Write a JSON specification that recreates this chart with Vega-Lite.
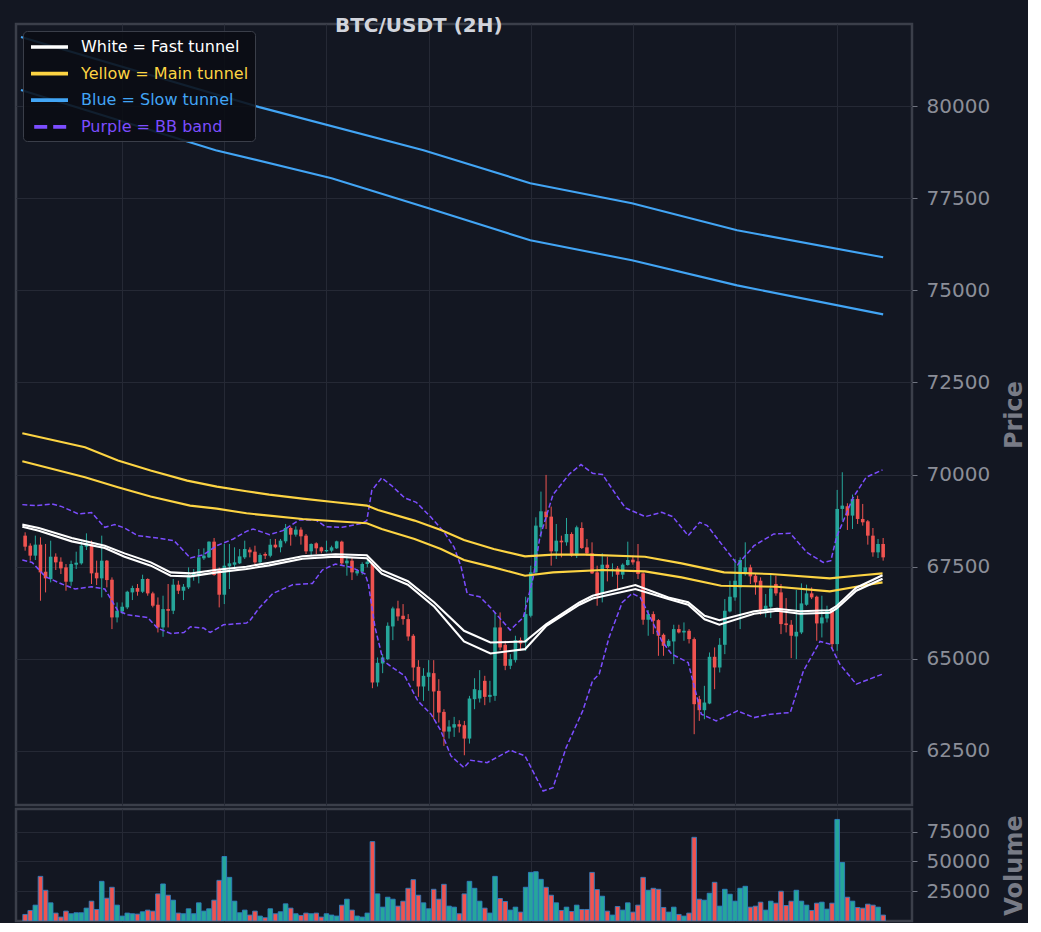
{
  "$schema": "https://vega.github.io/schema/vega-lite/v6.json",
  "background": "#131722",
  "padding": {"left": 14, "top": 15, "right": 0, "bottom": 0},
  "title": {
    "text": "BTC/USDT (2H)",
    "anchor": "start",
    "align": "center",
    "dx": 404,
    "dy": 29,
    "offset": 0,
    "baseline": "alphabetic",
    "font": "DejaVu Sans",
    "fontSize": 20,
    "fontWeight": "bold",
    "color": "#d1d4dc"
  },
  "datasets": {
    "candles": [
      {"i":1,"o":68342,"h":68433,"l":67934,"c":68043,"v":5520},
      {"i":2,"o":68070,"h":68134,"l":67663,"c":67799,"v":8850},
      {"i":3,"o":67799,"h":68342,"l":67681,"c":68098,"v":13300},
      {"i":4,"o":68098,"h":68297,"l":66576,"c":67346,"v":37470},
      {"i":5,"o":67364,"h":68116,"l":66802,"c":67183,"v":25800},
      {"i":6,"o":67165,"h":68206,"l":67074,"c":67771,"v":15240},
      {"i":7,"o":67771,"h":67862,"l":67409,"c":67617,"v":6630},
      {"i":8,"o":67635,"h":67753,"l":67300,"c":67454,"v":3300},
      {"i":9,"o":67481,"h":67572,"l":66847,"c":67092,"v":8300},
      {"i":10,"o":67092,"h":67663,"l":66983,"c":67572,"v":6080},
      {"i":11,"o":67554,"h":67907,"l":67436,"c":67608,"v":6910},
      {"i":12,"o":67590,"h":68188,"l":67554,"c":68070,"v":6910},
      {"i":13,"o":68043,"h":68405,"l":67952,"c":68134,"v":10800},
      {"i":14,"o":68116,"h":68206,"l":67029,"c":67318,"v":16630},
      {"i":15,"o":67337,"h":67663,"l":67001,"c":67183,"v":9690},
      {"i":16,"o":67183,"h":68342,"l":66666,"c":67663,"v":33300},
      {"i":17,"o":67663,"h":67681,"l":66938,"c":67137,"v":19130},
      {"i":18,"o":67146,"h":67210,"l":65806,"c":66123,"v":28300},
      {"i":19,"o":66123,"h":66530,"l":65987,"c":66304,"v":13300},
      {"i":20,"o":66286,"h":66530,"l":66213,"c":66413,"v":4130},
      {"i":21,"o":66395,"h":66847,"l":66349,"c":66820,"v":6630},
      {"i":22,"o":66802,"h":66983,"l":66594,"c":66920,"v":6080},
      {"i":23,"o":66920,"h":67029,"l":66712,"c":66820,"v":5800},
      {"i":24,"o":66820,"h":67282,"l":66784,"c":67165,"v":7740},
      {"i":25,"o":67165,"h":67183,"l":66712,"c":66775,"v":9130},
      {"i":26,"o":66775,"h":66820,"l":66395,"c":66440,"v":8300},
      {"i":27,"o":66467,"h":66666,"l":65715,"c":65851,"v":22740},
      {"i":28,"o":65851,"h":66712,"l":65597,"c":66349,"v":31080},
      {"i":29,"o":66349,"h":67029,"l":65851,"c":66304,"v":21630},
      {"i":30,"o":66304,"h":67165,"l":66213,"c":67011,"v":17470},
      {"i":31,"o":67011,"h":67119,"l":66757,"c":66847,"v":6630},
      {"i":32,"o":66847,"h":67029,"l":66594,"c":66956,"v":6080},
      {"i":33,"o":66938,"h":67481,"l":66893,"c":67273,"v":10240},
      {"i":34,"o":67255,"h":67436,"l":67119,"c":67318,"v":6080},
      {"i":35,"o":67282,"h":67980,"l":67047,"c":67753,"v":15240},
      {"i":36,"o":67726,"h":67998,"l":67681,"c":67799,"v":8300},
      {"i":37,"o":67753,"h":68188,"l":67735,"c":68179,"v":10240},
      {"i":38,"o":68179,"h":68279,"l":67255,"c":67273,"v":17470},
      {"i":39,"o":67436,"h":67481,"l":66395,"c":66739,"v":34130},
      {"i":40,"o":66739,"h":68116,"l":66485,"c":67527,"v":54130},
      {"i":41,"o":67509,"h":68116,"l":66893,"c":67590,"v":36640},
      {"i":42,"o":67554,"h":68025,"l":67436,"c":67617,"v":16630},
      {"i":43,"o":67590,"h":67980,"l":67572,"c":67780,"v":6910},
      {"i":44,"o":67753,"h":68206,"l":67708,"c":67980,"v":9130},
      {"i":45,"o":67962,"h":68025,"l":67753,"c":67889,"v":4960},
      {"i":46,"o":67907,"h":68070,"l":67527,"c":67617,"v":8300},
      {"i":47,"o":67617,"h":67862,"l":67554,"c":67817,"v":4130},
      {"i":48,"o":67844,"h":67889,"l":67708,"c":67799,"v":2740},
      {"i":49,"o":67799,"h":68252,"l":67753,"c":68098,"v":10240},
      {"i":50,"o":68098,"h":68252,"l":67998,"c":68025,"v":6080},
      {"i":51,"o":68025,"h":68252,"l":67889,"c":68206,"v":7740},
      {"i":52,"o":68188,"h":68659,"l":68134,"c":68550,"v":14410},
      {"i":53,"o":68550,"h":68587,"l":68070,"c":68369,"v":10800},
      {"i":54,"o":68369,"h":68596,"l":68315,"c":68505,"v":6080},
      {"i":55,"o":68505,"h":68568,"l":68098,"c":68324,"v":4690},
      {"i":56,"o":68342,"h":68387,"l":67844,"c":67916,"v":6630},
      {"i":57,"o":67916,"h":68134,"l":67799,"c":68116,"v":6080},
      {"i":58,"o":68134,"h":68161,"l":67844,"c":67998,"v":6630},
      {"i":59,"o":68025,"h":68043,"l":67862,"c":67916,"v":3300},
      {"i":60,"o":67916,"h":68206,"l":67889,"c":67952,"v":6080},
      {"i":61,"o":67934,"h":68070,"l":67889,"c":68025,"v":4960},
      {"i":62,"o":67998,"h":68206,"l":67980,"c":68188,"v":4130},
      {"i":63,"o":68179,"h":68206,"l":67527,"c":67590,"v":13300},
      {"i":64,"o":67590,"h":67799,"l":67255,"c":67663,"v":18300},
      {"i":65,"o":67663,"h":67753,"l":67137,"c":67346,"v":9130},
      {"i":66,"o":67318,"h":67436,"l":67255,"c":67391,"v":4130},
      {"i":67,"o":67364,"h":67617,"l":67282,"c":67572,"v":3300},
      {"i":68,"o":67572,"h":67681,"l":67481,"c":67635,"v":6630},
      {"i":69,"o":67572,"h":67617,"l":64202,"c":64357,"v":66640},
      {"i":70,"o":64357,"h":65036,"l":64248,"c":64891,"v":22740},
      {"i":71,"o":64873,"h":65127,"l":64610,"c":65036,"v":11630},
      {"i":72,"o":64991,"h":65987,"l":64963,"c":65896,"v":19970},
      {"i":73,"o":65878,"h":66413,"l":65507,"c":66367,"v":18300},
      {"i":74,"o":66367,"h":66576,"l":66032,"c":66150,"v":12460},
      {"i":75,"o":66168,"h":66485,"l":65924,"c":66077,"v":16630},
      {"i":76,"o":66077,"h":66213,"l":65489,"c":65606,"v":27460},
      {"i":77,"o":65625,"h":65670,"l":64402,"c":64764,"v":34690},
      {"i":78,"o":64782,"h":64963,"l":63967,"c":64248,"v":21630},
      {"i":79,"o":64248,"h":64746,"l":63858,"c":64538,"v":15240},
      {"i":80,"o":64510,"h":64963,"l":64130,"c":64628,"v":10240},
      {"i":81,"o":64610,"h":64963,"l":63360,"c":64112,"v":26630},
      {"i":82,"o":64130,"h":64447,"l":63270,"c":63541,"v":18300},
      {"i":83,"o":63559,"h":63632,"l":62636,"c":63025,"v":30800},
      {"i":84,"o":63025,"h":63333,"l":62835,"c":63161,"v":12460},
      {"i":85,"o":63134,"h":63424,"l":62880,"c":63225,"v":11630},
      {"i":86,"o":63225,"h":63333,"l":62998,"c":63161,"v":6080},
      {"i":87,"o":63197,"h":63315,"l":62382,"c":62835,"v":22740},
      {"i":88,"o":62835,"h":63994,"l":62699,"c":63922,"v":33300},
      {"i":89,"o":63904,"h":64474,"l":63632,"c":64175,"v":27460},
      {"i":90,"o":63922,"h":64692,"l":63813,"c":64148,"v":16630},
      {"i":91,"o":64402,"h":64538,"l":63741,"c":63967,"v":10800},
      {"i":92,"o":63967,"h":64402,"l":63813,"c":64021,"v":6630},
      {"i":93,"o":63994,"h":66259,"l":63858,"c":65851,"v":37470},
      {"i":94,"o":65851,"h":66259,"l":65235,"c":65308,"v":18860},
      {"i":95,"o":65380,"h":65489,"l":64692,"c":64810,"v":16360},
      {"i":96,"o":64810,"h":65127,"l":64719,"c":64991,"v":9130},
      {"i":97,"o":64963,"h":65625,"l":64900,"c":65507,"v":11630},
      {"i":98,"o":65507,"h":65579,"l":65217,"c":65416,"v":7460},
      {"i":99,"o":65443,"h":66684,"l":65217,"c":66213,"v":28300},
      {"i":100,"o":66168,"h":67527,"l":66123,"c":67346,"v":40800},
      {"i":101,"o":67346,"h":68840,"l":67300,"c":68614,"v":41350},
      {"i":102,"o":68569,"h":69538,"l":68297,"c":69003,"v":34970},
      {"i":103,"o":68994,"h":69990,"l":68523,"c":68840,"v":28300},
      {"i":104,"o":68858,"h":69130,"l":67527,"c":67916,"v":21630},
      {"i":105,"o":67916,"h":68659,"l":67708,"c":68206,"v":15240},
      {"i":106,"o":68206,"h":68342,"l":67753,"c":68161,"v":8850},
      {"i":107,"o":68161,"h":68822,"l":68070,"c":68387,"v":11630},
      {"i":108,"o":68387,"h":68433,"l":67771,"c":67799,"v":8020},
      {"i":109,"o":67799,"h":68614,"l":67735,"c":68569,"v":13300},
      {"i":110,"o":68550,"h":68704,"l":67980,"c":68007,"v":9690},
      {"i":111,"o":68025,"h":68252,"l":67799,"c":67862,"v":9690},
      {"i":112,"o":67862,"h":68161,"l":67300,"c":67318,"v":40800},
      {"i":113,"o":67346,"h":67527,"l":66440,"c":66712,"v":26360},
      {"i":114,"o":66757,"h":67862,"l":66530,"c":67554,"v":20800},
      {"i":115,"o":67554,"h":67771,"l":67101,"c":67463,"v":8300},
      {"i":116,"o":67391,"h":67590,"l":67228,"c":67436,"v":4960},
      {"i":117,"o":67454,"h":67518,"l":66893,"c":67282,"v":12190},
      {"i":118,"o":67282,"h":67590,"l":67165,"c":67554,"v":9130},
      {"i":119,"o":67545,"h":68179,"l":67527,"c":67681,"v":15240},
      {"i":120,"o":67690,"h":67799,"l":67554,"c":67617,"v":7460},
      {"i":121,"o":67645,"h":68116,"l":67165,"c":67300,"v":13300},
      {"i":122,"o":67318,"h":67346,"l":65924,"c":66060,"v":36640},
      {"i":123,"o":66060,"h":66322,"l":65625,"c":66213,"v":25800},
      {"i":124,"o":66213,"h":66286,"l":65670,"c":66032,"v":27460},
      {"i":125,"o":66050,"h":66077,"l":65081,"c":65625,"v":26630},
      {"i":126,"o":65652,"h":65688,"l":65081,"c":65353,"v":11360},
      {"i":127,"o":65344,"h":65534,"l":65308,"c":65489,"v":7460},
      {"i":128,"o":65471,"h":65924,"l":64855,"c":65806,"v":11630},
      {"i":129,"o":65806,"h":65924,"l":65688,"c":65715,"v":5520},
      {"i":130,"o":65715,"h":65987,"l":65489,"c":65760,"v":4130},
      {"i":131,"o":65760,"h":65806,"l":65416,"c":65534,"v":6630},
      {"i":132,"o":65534,"h":65579,"l":62953,"c":63768,"v":70250},
      {"i":133,"o":63904,"h":63994,"l":63315,"c":63605,"v":18300},
      {"i":134,"o":63605,"h":64266,"l":63360,"c":63813,"v":17470},
      {"i":135,"o":63786,"h":65172,"l":63768,"c":65054,"v":23300},
      {"i":136,"o":65054,"h":65308,"l":64175,"c":64764,"v":32470},
      {"i":137,"o":64764,"h":65561,"l":64628,"c":65380,"v":12460},
      {"i":138,"o":65380,"h":66621,"l":65126,"c":66304,"v":26630},
      {"i":139,"o":66286,"h":67119,"l":66259,"c":66684,"v":22470},
      {"i":140,"o":66666,"h":67708,"l":66576,"c":67119,"v":16630},
      {"i":141,"o":66938,"h":67753,"l":65806,"c":67681,"v":27460},
      {"i":142,"o":67300,"h":68161,"l":67255,"c":67481,"v":29130},
      {"i":143,"o":67481,"h":67554,"l":67029,"c":67237,"v":11630},
      {"i":144,"o":67255,"h":67318,"l":66739,"c":67074,"v":12460},
      {"i":145,"o":67119,"h":67210,"l":66195,"c":66304,"v":15800},
      {"i":146,"o":66304,"h":66757,"l":66123,"c":66440,"v":9130},
      {"i":147,"o":66413,"h":67282,"l":66105,"c":66911,"v":16630},
      {"i":148,"o":67029,"h":67255,"l":66712,"c":66775,"v":14970},
      {"i":149,"o":66802,"h":67029,"l":65670,"c":65942,"v":24970},
      {"i":150,"o":65960,"h":66648,"l":65715,"c":65915,"v":13020},
      {"i":151,"o":65924,"h":66050,"l":65018,"c":65625,"v":16630},
      {"i":152,"o":65607,"h":66866,"l":64991,"c":65733,"v":25800},
      {"i":153,"o":65715,"h":67047,"l":65670,"c":66503,"v":16630},
      {"i":154,"o":66467,"h":67011,"l":66440,"c":66775,"v":13300},
      {"i":155,"o":66775,"h":66938,"l":66621,"c":66666,"v":8850},
      {"i":156,"o":66684,"h":66712,"l":65489,"c":65960,"v":14970},
      {"i":157,"o":65960,"h":66712,"l":65579,"c":66123,"v":15800},
      {"i":158,"o":66096,"h":66440,"l":65987,"c":66322,"v":9970},
      {"i":159,"o":66322,"h":66349,"l":65262,"c":65398,"v":14970},
      {"i":160,"o":65398,"h":69583,"l":65217,"c":69067,"v":85250},
      {"i":161,"o":69067,"h":70063,"l":68750,"c":69157,"v":49140},
      {"i":162,"o":69139,"h":69221,"l":68496,"c":68886,"v":19970},
      {"i":163,"o":68886,"h":69456,"l":68523,"c":69338,"v":16630},
      {"i":164,"o":69338,"h":69429,"l":68659,"c":68795,"v":11360},
      {"i":165,"o":68795,"h":69203,"l":68614,"c":68704,"v":10800},
      {"i":166,"o":68731,"h":68768,"l":68098,"c":68342,"v":14130},
      {"i":167,"o":68342,"h":68550,"l":67771,"c":67889,"v":13300},
      {"i":168,"o":67889,"h":68252,"l":67735,"c":68116,"v":11630},
      {"i":169,"o":68116,"h":68279,"l":67663,"c":67753,"v":4960}
    ],
    "bb": [
      {"s":"Purple = BB band","k":"u","i":0.45,"p":69184},
      {"s":"Purple = BB band","k":"u","i":3.04,"p":69157},
      {"s":"Purple = BB band","k":"u","i":6.25,"p":69203},
      {"s":"Purple = BB band","k":"u","i":8.19,"p":69130},
      {"s":"Purple = BB band","k":"u","i":11.42,"p":68931},
      {"s":"Purple = BB band","k":"u","i":14.0,"p":68967},
      {"s":"Purple = BB band","k":"u","i":16.59,"p":68568},
      {"s":"Purple = BB band","k":"u","i":18.53,"p":68641},
      {"s":"Purple = BB band","k":"u","i":20.46,"p":68551},
      {"s":"Purple = BB band","k":"u","i":23.04,"p":68342},
      {"s":"Purple = BB band","k":"u","i":26.91,"p":68280},
      {"s":"Purple = BB band","k":"u","i":30.15,"p":68206},
      {"s":"Purple = BB band","k":"u","i":33.36,"p":67736},
      {"s":"Purple = BB band","k":"u","i":35.95,"p":67826},
      {"s":"Purple = BB band","k":"u","i":38.53,"p":68070},
      {"s":"Purple = BB band","k":"u","i":41.76,"p":68252},
      {"s":"Purple = BB band","k":"u","i":44.34,"p":68459},
      {"s":"Purple = BB band","k":"u","i":45.63,"p":68524},
      {"s":"Purple = BB band","k":"u","i":48.85,"p":68369},
      {"s":"Purple = BB band","k":"u","i":51.44,"p":68478},
      {"s":"Purple = BB band","k":"u","i":54.66,"p":68769},
      {"s":"Purple = BB band","k":"u","i":57.89,"p":68769},
      {"s":"Purple = BB band","k":"u","i":59.83,"p":68587},
      {"s":"Purple = BB band","k":"u","i":63.06,"p":68568},
      {"s":"Purple = BB band","k":"u","i":66.93,"p":68676},
      {"s":"Purple = BB band","k":"u","i":67.9,"p":68750},
      {"s":"Purple = BB band","k":"u","i":68.87,"p":69565},
      {"s":"Purple = BB band","k":"u","i":70.81,"p":69910},
      {"s":"Purple = BB band","k":"u","i":72.74,"p":69701},
      {"s":"Purple = BB band","k":"u","i":75.31,"p":69367},
      {"s":"Purple = BB band","k":"u","i":77.58,"p":69247},
      {"s":"Purple = BB band","k":"u","i":80.48,"p":68839},
      {"s":"Purple = BB band","k":"u","i":83.06,"p":68432},
      {"s":"Purple = BB band","k":"u","i":85.0,"p":68024},
      {"s":"Purple = BB band","k":"u","i":86.35,"p":67500},
      {"s":"Purple = BB band","k":"u","i":87.57,"p":66758},
      {"s":"Purple = BB band","k":"u","i":90.03,"p":66684},
      {"s":"Purple = BB band","k":"u","i":92.1,"p":66394},
      {"s":"Purple = BB band","k":"u","i":95.97,"p":65780},
      {"s":"Purple = BB band","k":"u","i":98.55,"p":66122},
      {"s":"Purple = BB band","k":"u","i":100.48,"p":67209},
      {"s":"Purple = BB band","k":"u","i":101.78,"p":68296},
      {"s":"Purple = BB band","k":"u","i":104.36,"p":69456},
      {"s":"Purple = BB band","k":"u","i":107.59,"p":70018},
      {"s":"Purple = BB band","k":"u","i":109.84,"p":70271},
      {"s":"Purple = BB band","k":"u","i":112.1,"p":70035},
      {"s":"Purple = BB band","k":"u","i":114.04,"p":70000},
      {"s":"Purple = BB band","k":"u","i":117.27,"p":69339},
      {"s":"Purple = BB band","k":"u","i":118.55,"p":69095},
      {"s":"Purple = BB band","k":"u","i":122.42,"p":68858},
      {"s":"Purple = BB band","k":"u","i":125.65,"p":68975},
      {"s":"Purple = BB band","k":"u","i":127.78,"p":68858},
      {"s":"Purple = BB band","k":"u","i":130.82,"p":68342},
      {"s":"Purple = BB band","k":"u","i":133.07,"p":68703},
      {"s":"Purple = BB band","k":"u","i":134.56,"p":68614},
      {"s":"Purple = BB band","k":"u","i":140.5,"p":67554},
      {"s":"Purple = BB band","k":"u","i":143.72,"p":68070},
      {"s":"Purple = BB band","k":"u","i":147.59,"p":68388},
      {"s":"Purple = BB band","k":"u","i":150.82,"p":68404},
      {"s":"Purple = BB band","k":"u","i":154.06,"p":67888},
      {"s":"Purple = BB band","k":"u","i":157.27,"p":67616},
      {"s":"Purple = BB band","k":"u","i":158.76,"p":67662},
      {"s":"Purple = BB band","k":"u","i":159.86,"p":68296},
      {"s":"Purple = BB band","k":"u","i":163.08,"p":69366},
      {"s":"Purple = BB band","k":"u","i":165.67,"p":69926},
      {"s":"Purple = BB band","k":"u","i":168.88,"p":70127},
      {"s":"Purple = BB band","k":"l","i":0.45,"p":67681},
      {"s":"Purple = BB band","k":"l","i":2.38,"p":67616},
      {"s":"Purple = BB band","k":"l","i":4.98,"p":67228},
      {"s":"Purple = BB band","k":"l","i":8.19,"p":67029},
      {"s":"Purple = BB band","k":"l","i":10.78,"p":66893},
      {"s":"Purple = BB band","k":"l","i":14.0,"p":66956},
      {"s":"Purple = BB band","k":"l","i":16.59,"p":66893},
      {"s":"Purple = BB band","k":"l","i":19.17,"p":66304},
      {"s":"Purple = BB band","k":"l","i":21.1,"p":66195},
      {"s":"Purple = BB band","k":"l","i":24.98,"p":66122},
      {"s":"Purple = BB band","k":"l","i":26.91,"p":65834},
      {"s":"Purple = BB band","k":"l","i":29.49,"p":65687},
      {"s":"Purple = BB band","k":"l","i":32.08,"p":65714},
      {"s":"Purple = BB band","k":"l","i":33.36,"p":65869},
      {"s":"Purple = BB band","k":"l","i":35.95,"p":65834},
      {"s":"Purple = BB band","k":"l","i":37.23,"p":65714},
      {"s":"Purple = BB band","k":"l","i":39.83,"p":65923},
      {"s":"Purple = BB band","k":"l","i":44.34,"p":65970},
      {"s":"Purple = BB band","k":"l","i":44.98,"p":66032},
      {"s":"Purple = BB band","k":"l","i":46.91,"p":66393},
      {"s":"Purple = BB band","k":"l","i":49.51,"p":66774},
      {"s":"Purple = BB band","k":"l","i":53.38,"p":67010},
      {"s":"Purple = BB band","k":"l","i":57.25,"p":67046},
      {"s":"Purple = BB band","k":"l","i":59.19,"p":67410},
      {"s":"Purple = BB band","k":"l","i":61.76,"p":67573},
      {"s":"Purple = BB band","k":"l","i":64.99,"p":67480},
      {"s":"Purple = BB band","k":"l","i":67.57,"p":67301},
      {"s":"Purple = BB band","k":"l","i":68.21,"p":67029},
      {"s":"Purple = BB band","k":"l","i":69.51,"p":65850},
      {"s":"Purple = BB band","k":"l","i":71.11,"p":64945},
      {"s":"Purple = BB band","k":"l","i":72.74,"p":64782},
      {"s":"Purple = BB band","k":"l","i":75.31,"p":64538},
      {"s":"Purple = BB band","k":"l","i":77.89,"p":63858},
      {"s":"Purple = BB band","k":"l","i":80.48,"p":63497},
      {"s":"Purple = BB band","k":"l","i":82.42,"p":63043},
      {"s":"Purple = BB band","k":"l","i":84.36,"p":62364},
      {"s":"Purple = BB band","k":"l","i":86.93,"p":62046},
      {"s":"Purple = BB band","k":"l","i":88.23,"p":62247},
      {"s":"Purple = BB band","k":"l","i":91.44,"p":62182},
      {"s":"Purple = BB band","k":"l","i":95.97,"p":62519},
      {"s":"Purple = BB band","k":"l","i":98.88,"p":62364},
      {"s":"Purple = BB band","k":"l","i":102.42,"p":61413},
      {"s":"Purple = BB band","k":"l","i":104.36,"p":61503},
      {"s":"Purple = BB band","k":"l","i":106.93,"p":62590},
      {"s":"Purple = BB band","k":"l","i":110.17,"p":63587},
      {"s":"Purple = BB band","k":"l","i":112.1,"p":64402},
      {"s":"Purple = BB band","k":"l","i":113.4,"p":64584},
      {"s":"Purple = BB band","k":"l","i":115.33,"p":65578},
      {"s":"Purple = BB band","k":"l","i":117.91,"p":66529},
      {"s":"Purple = BB band","k":"l","i":119.85,"p":66774},
      {"s":"Purple = BB band","k":"l","i":121.45,"p":66665},
      {"s":"Purple = BB band","k":"l","i":123.72,"p":66032},
      {"s":"Purple = BB band","k":"l","i":125.65,"p":65489},
      {"s":"Purple = BB band","k":"l","i":127.59,"p":65127},
      {"s":"Purple = BB band","k":"l","i":130.82,"p":64899},
      {"s":"Purple = BB band","k":"l","i":133.4,"p":63497},
      {"s":"Purple = BB band","k":"l","i":136.31,"p":63315},
      {"s":"Purple = BB band","k":"l","i":140.5,"p":63586},
      {"s":"Purple = BB band","k":"l","i":143.72,"p":63404},
      {"s":"Purple = BB band","k":"l","i":146.95,"p":63497},
      {"s":"Purple = BB band","k":"l","i":150.82,"p":63541},
      {"s":"Purple = BB band","k":"l","i":153.4,"p":64674},
      {"s":"Purple = BB band","k":"l","i":156.63,"p":65470},
      {"s":"Purple = BB band","k":"l","i":158.56,"p":65399},
      {"s":"Purple = BB band","k":"l","i":160.5,"p":64856},
      {"s":"Purple = BB band","k":"l","i":163.74,"p":64312},
      {"s":"Purple = BB band","k":"l","i":168.88,"p":64584}
    ],
    "tunnels": [
      {"s":"Blue = Slow tunnel","k":"u","i":0.19,"p":81875},
      {"s":"Blue = Slow tunnel","k":"u","i":46.85,"p":79972},
      {"s":"Blue = Slow tunnel","k":"u","i":79.0,"p":78804},
      {"s":"Blue = Slow tunnel","k":"u","i":99.9,"p":77907},
      {"s":"Blue = Slow tunnel","k":"u","i":119.8,"p":77364},
      {"s":"Blue = Slow tunnel","k":"u","i":140.4,"p":76630},
      {"s":"Blue = Slow tunnel","k":"u","i":169.0,"p":75896},
      {"s":"Blue = Slow tunnel","k":"l","i":0.19,"p":80434},
      {"s":"Blue = Slow tunnel","k":"l","i":38.3,"p":78804},
      {"s":"Blue = Slow tunnel","k":"l","i":61.0,"p":78043},
      {"s":"Blue = Slow tunnel","k":"l","i":80.0,"p":77228},
      {"s":"Blue = Slow tunnel","k":"l","i":99.9,"p":76358},
      {"s":"Blue = Slow tunnel","k":"l","i":119.8,"p":75815},
      {"s":"Blue = Slow tunnel","k":"l","i":140.4,"p":75135},
      {"s":"Blue = Slow tunnel","k":"l","i":169.0,"p":74347},
      {"s":"Yellow = Main tunnel","k":"u","i":0.45,"p":71122},
      {"s":"Yellow = Main tunnel","k":"u","i":12.72,"p":70741},
      {"s":"Yellow = Main tunnel","k":"u","i":19.17,"p":70380},
      {"s":"Yellow = Main tunnel","k":"u","i":25.56,"p":70108},
      {"s":"Yellow = Main tunnel","k":"u","i":32.72,"p":69836},
      {"s":"Yellow = Main tunnel","k":"u","i":38.53,"p":69673},
      {"s":"Yellow = Main tunnel","k":"u","i":44.34,"p":69546},
      {"s":"Yellow = Main tunnel","k":"u","i":48.79,"p":69456},
      {"s":"Yellow = Main tunnel","k":"u","i":55.31,"p":69347},
      {"s":"Yellow = Main tunnel","k":"u","i":61.76,"p":69247},
      {"s":"Yellow = Main tunnel","k":"u","i":67.9,"p":69157},
      {"s":"Yellow = Main tunnel","k":"u","i":70.09,"p":69040},
      {"s":"Yellow = Main tunnel","k":"u","i":77.25,"p":68750},
      {"s":"Yellow = Main tunnel","k":"u","i":82.42,"p":68497},
      {"s":"Yellow = Main tunnel","k":"u","i":86.93,"p":68225},
      {"s":"Yellow = Main tunnel","k":"u","i":92.74,"p":67981},
      {"s":"Yellow = Main tunnel","k":"u","i":98.88,"p":67780},
      {"s":"Yellow = Main tunnel","k":"u","i":104.36,"p":67826},
      {"s":"Yellow = Main tunnel","k":"u","i":110.75,"p":67826},
      {"s":"Yellow = Main tunnel","k":"u","i":122.36,"p":67771},
      {"s":"Yellow = Main tunnel","k":"u","i":129.53,"p":67589},
      {"s":"Yellow = Main tunnel","k":"u","i":137.85,"p":67345},
      {"s":"Yellow = Main tunnel","k":"u","i":146.95,"p":67301},
      {"s":"Yellow = Main tunnel","k":"u","i":158.56,"p":67182},
      {"s":"Yellow = Main tunnel","k":"u","i":163.74,"p":67255},
      {"s":"Yellow = Main tunnel","k":"u","i":168.88,"p":67318},
      {"s":"Yellow = Main tunnel","k":"l","i":0.45,"p":70361},
      {"s":"Yellow = Main tunnel","k":"l","i":12.72,"p":69926},
      {"s":"Yellow = Main tunnel","k":"l","i":19.17,"p":69655},
      {"s":"Yellow = Main tunnel","k":"l","i":25.56,"p":69402},
      {"s":"Yellow = Main tunnel","k":"l","i":33.3,"p":69157},
      {"s":"Yellow = Main tunnel","k":"l","i":38.53,"p":69076},
      {"s":"Yellow = Main tunnel","k":"l","i":44.34,"p":68948},
      {"s":"Yellow = Main tunnel","k":"l","i":48.79,"p":68886},
      {"s":"Yellow = Main tunnel","k":"l","i":55.31,"p":68796},
      {"s":"Yellow = Main tunnel","k":"l","i":61.76,"p":68731},
      {"s":"Yellow = Main tunnel","k":"l","i":67.9,"p":68677},
      {"s":"Yellow = Main tunnel","k":"l","i":70.81,"p":68525},
      {"s":"Yellow = Main tunnel","k":"l","i":77.25,"p":68253},
      {"s":"Yellow = Main tunnel","k":"l","i":82.42,"p":67981},
      {"s":"Yellow = Main tunnel","k":"l","i":86.93,"p":67682},
      {"s":"Yellow = Main tunnel","k":"l","i":92.74,"p":67481},
      {"s":"Yellow = Main tunnel","k":"l","i":98.88,"p":67255},
      {"s":"Yellow = Main tunnel","k":"l","i":104.36,"p":67345},
      {"s":"Yellow = Main tunnel","k":"l","i":114.04,"p":67410},
      {"s":"Yellow = Main tunnel","k":"l","i":122.36,"p":67372},
      {"s":"Yellow = Main tunnel","k":"l","i":129.53,"p":67209},
      {"s":"Yellow = Main tunnel","k":"l","i":137.27,"p":66983},
      {"s":"Yellow = Main tunnel","k":"l","i":148.25,"p":66956},
      {"s":"Yellow = Main tunnel","k":"l","i":158.56,"p":66829},
      {"s":"Yellow = Main tunnel","k":"l","i":163.74,"p":66956},
      {"s":"Yellow = Main tunnel","k":"l","i":168.88,"p":67073},
      {"s":"White = Fast tunnel","k":"u","i":0.45,"p":68641},
      {"s":"White = Fast tunnel","k":"u","i":3.68,"p":68551},
      {"s":"White = Fast tunnel","k":"u","i":10.13,"p":68280},
      {"s":"White = Fast tunnel","k":"u","i":16.59,"p":68070},
      {"s":"White = Fast tunnel","k":"u","i":20.46,"p":67861},
      {"s":"White = Fast tunnel","k":"u","i":25.61,"p":67617},
      {"s":"White = Fast tunnel","k":"u","i":29.49,"p":67345},
      {"s":"White = Fast tunnel","k":"u","i":33.36,"p":67317},
      {"s":"White = Fast tunnel","k":"u","i":38.53,"p":67418},
      {"s":"White = Fast tunnel","k":"u","i":44.34,"p":67499},
      {"s":"White = Fast tunnel","k":"u","i":48.79,"p":67608},
      {"s":"White = Fast tunnel","k":"u","i":55.31,"p":67784},
      {"s":"White = Fast tunnel","k":"u","i":61.76,"p":67839},
      {"s":"White = Fast tunnel","k":"u","i":67.9,"p":67812},
      {"s":"White = Fast tunnel","k":"u","i":70.81,"p":67404},
      {"s":"White = Fast tunnel","k":"u","i":75.95,"p":67105},
      {"s":"White = Fast tunnel","k":"u","i":81.12,"p":66529},
      {"s":"White = Fast tunnel","k":"u","i":86.93,"p":65760},
      {"s":"White = Fast tunnel","k":"u","i":92.1,"p":65442},
      {"s":"White = Fast tunnel","k":"u","i":98.88,"p":65469},
      {"s":"White = Fast tunnel","k":"u","i":103.06,"p":65942},
      {"s":"White = Fast tunnel","k":"u","i":109.53,"p":66529},
      {"s":"White = Fast tunnel","k":"u","i":112.1,"p":66711},
      {"s":"White = Fast tunnel","k":"u","i":120.48,"p":67002},
      {"s":"White = Fast tunnel","k":"u","i":126.95,"p":66665},
      {"s":"White = Fast tunnel","k":"u","i":130.82,"p":66535},
      {"s":"White = Fast tunnel","k":"u","i":134.04,"p":66168},
      {"s":"White = Fast tunnel","k":"u","i":136.94,"p":66046},
      {"s":"White = Fast tunnel","k":"u","i":143.72,"p":66290},
      {"s":"White = Fast tunnel","k":"u","i":148.25,"p":66358},
      {"s":"White = Fast tunnel","k":"u","i":152.76,"p":66290},
      {"s":"White = Fast tunnel","k":"u","i":158.56,"p":66317},
      {"s":"White = Fast tunnel","k":"u","i":159.86,"p":66426},
      {"s":"White = Fast tunnel","k":"u","i":163.74,"p":66929},
      {"s":"White = Fast tunnel","k":"u","i":168.88,"p":67268},
      {"s":"White = Fast tunnel","k":"l","i":0.45,"p":68586},
      {"s":"White = Fast tunnel","k":"l","i":3.68,"p":68478},
      {"s":"White = Fast tunnel","k":"l","i":10.13,"p":68187},
      {"s":"White = Fast tunnel","k":"l","i":16.59,"p":68008},
      {"s":"White = Fast tunnel","k":"l","i":20.46,"p":67772},
      {"s":"White = Fast tunnel","k":"l","i":25.61,"p":67527},
      {"s":"White = Fast tunnel","k":"l","i":29.49,"p":67255},
      {"s":"White = Fast tunnel","k":"l","i":33.36,"p":67236},
      {"s":"White = Fast tunnel","k":"l","i":38.53,"p":67345},
      {"s":"White = Fast tunnel","k":"l","i":44.34,"p":67437},
      {"s":"White = Fast tunnel","k":"l","i":48.79,"p":67535},
      {"s":"White = Fast tunnel","k":"l","i":55.31,"p":67717},
      {"s":"White = Fast tunnel","k":"l","i":61.76,"p":67772},
      {"s":"White = Fast tunnel","k":"l","i":67.9,"p":67731},
      {"s":"White = Fast tunnel","k":"l","i":70.81,"p":67309},
      {"s":"White = Fast tunnel","k":"l","i":75.95,"p":67010},
      {"s":"White = Fast tunnel","k":"l","i":81.12,"p":66412},
      {"s":"White = Fast tunnel","k":"l","i":86.93,"p":65469},
      {"s":"White = Fast tunnel","k":"l","i":92.1,"p":65143},
      {"s":"White = Fast tunnel","k":"l","i":98.88,"p":65262},
      {"s":"White = Fast tunnel","k":"l","i":103.06,"p":65896},
      {"s":"White = Fast tunnel","k":"l","i":109.53,"p":66467},
      {"s":"White = Fast tunnel","k":"l","i":112.1,"p":66638},
      {"s":"White = Fast tunnel","k":"l","i":120.48,"p":66893},
      {"s":"White = Fast tunnel","k":"l","i":126.95,"p":66621},
      {"s":"White = Fast tunnel","k":"l","i":130.82,"p":66467},
      {"s":"White = Fast tunnel","k":"l","i":134.04,"p":66073},
      {"s":"White = Fast tunnel","k":"l","i":136.94,"p":65924},
      {"s":"White = Fast tunnel","k":"l","i":143.72,"p":66223},
      {"s":"White = Fast tunnel","k":"l","i":148.25,"p":66304},
      {"s":"White = Fast tunnel","k":"l","i":152.76,"p":66223},
      {"s":"White = Fast tunnel","k":"l","i":158.56,"p":66250},
      {"s":"White = Fast tunnel","k":"l","i":159.86,"p":66358},
      {"s":"White = Fast tunnel","k":"l","i":163.74,"p":66847},
      {"s":"White = Fast tunnel","k":"l","i":168.88,"p":67174}
    ]
  },
  "spacing": 0,
  "vconcat": [
    {
      "width": 896,
      "height": 781,
      "layer": [
        {
          "data": {"name": "candles"},
          "mark": {"type": "rule", "strokeWidth": 1, "clip": true},
          "encoding": {
            "x": {
              "field": "i", "type": "quantitative",
              "scale": {"domain": [0.19, 173.67], "nice": false, "zero": false},
              "axis": {"values": [20, 40, 60, 80, 100, 120, 140, 160], "labels": false, "ticks": false, "domain": false, "title": null, "grid": true}
            },
            "y": {
              "field": "l", "type": "quantitative",
              "scale": {"domain": [61032, 82228], "nice": false, "zero": false},
              "axis": {"orient": "right", "title": "Price", "values": [62500, 65000, 67500, 70000, 72500, 75000, 77500, 80000], "format": "d", "grid": true}
            },
            "y2": {"field": "h"},
            "color": {"condition": {"test": "datum.c >= datum.o", "value": "#26a69a"}, "value": "#ef5350"}
          }
        },
        {
          "data": {"name": "candles"},
          "mark": {"type": "bar", "size": 3.6, "clip": true},
          "encoding": {
            "x": {"field": "i", "type": "quantitative"},
            "y": {"field": "o", "type": "quantitative"},
            "y2": {"field": "c"},
            "color": {"condition": {"test": "datum.c >= datum.o", "value": "#26a69a"}, "value": "#ef5350"}
          }
        },
        {
          "data": {"name": "bb"},
          "mark": {"type": "line", "clip": true, "strokeWidth": 1.5, "strokeDash": [5, 2.5]},
          "encoding": {
            "x": {"field": "i", "type": "quantitative"},
            "y": {"field": "p", "type": "quantitative"},
            "detail": {"field": "k"},
            "color": {"field": "s", "type": "nominal"}
          }
        },
        {
          "data": {"name": "tunnels"},
          "mark": {"type": "line", "clip": true, "strokeWidth": 2.1},
          "encoding": {
            "x": {"field": "i", "type": "quantitative"},
            "y": {"field": "p", "type": "quantitative"},
            "detail": {"field": "k"},
            "color": {
              "field": "s", "type": "nominal",
              "scale": {
                "domain": ["White = Fast tunnel", "Yellow = Main tunnel", "Blue = Slow tunnel", "Purple = BB band"],
                "range": ["#ffffff", "#fdd443", "#42a5f5", "#7c4dff"]
              },
              "legend": {
                "title": null,
                "orient": "top-left",
                "offset": 7,
                "padding": 6,
                "fillColor": "rgba(10,13,19,0.88)",
                "strokeColor": "#3a3e49",
                "cornerRadius": 4,
                "symbolType": "M-1,0H3.625",
                "symbolSize": 256,
                "symbolStrokeWidth": 3.7,
                "labelFont": "DejaVu Sans",
                "labelFontSize": 16,
                "labelOffset": 32,
                "rowPadding": 8.6,
                "labelLimit": 400,
                "encode": {
                  "labels": {"update": {"fill": {"scale": "color", "field": "value"}}},
                  "symbols": {"update": {
                    "shape": {"signal": "datum.value === 'Purple = BB band' ? 'M-0.6,0H3.4' : 'M-1,0H3.625'"},
                    "strokeWidth": {"value": 3.7},
                    "strokeDash": {"signal": "datum.value === 'Purple = BB band' ? [13, 6] : [1, 0]"},
                    "strokeOpacity": {"value": 1}
                  }}
                }
              }
            }
          }
        }
      ]
    },
    {
      "width": 896,
      "height": 112,
      "data": {"name": "candles"},
      "mark": {"type": "bar", "size": 4.6, "stroke": "#2f7fc1", "strokeWidth": 0.9, "clip": true},
      "encoding": {
        "x": {
          "field": "i", "type": "quantitative",
          "scale": {"domain": [0.19, 173.67], "nice": false, "zero": false},
          "axis": {"values": [20, 40, 60, 80, 100, 120, 140, 160], "labels": false, "ticks": false, "domain": false, "title": null, "grid": true}
        },
        "y": {
          "field": "v", "type": "quantitative",
          "scale": {"domain": [0, 94000], "nice": false},
          "axis": {"orient": "right", "title": "Volume", "values": [25000, 50000, 75000], "format": "d", "grid": true}
        },
        "color": {"condition": {"test": "datum.c >= datum.o", "value": "#26a69a"}, "value": "#ef5350"}
      }
    }
  ],
  "config": {
    "view": {"stroke": "#3b3f4a", "strokeWidth": 2.5},
    "axis": {
      "gridColor": "#252935",
      "gridWidth": 1,
      "domain": false,
      "tickColor": "#707480",
      "tickSize": 5,
      "labelColor": "#8b8e98",
      "labelFont": "DejaVu Sans",
      "labelFontSize": 20,
      "labelPadding": 9,
      "titleColor": "#787b86",
      "titleFont": "DejaVu Sans",
      "titleFontSize": 24,
      "titleFontWeight": "bold",
      "titleAngle": 270,
      "titleBaseline": "top",
      "titlePadding": 13
    }
  }
}
